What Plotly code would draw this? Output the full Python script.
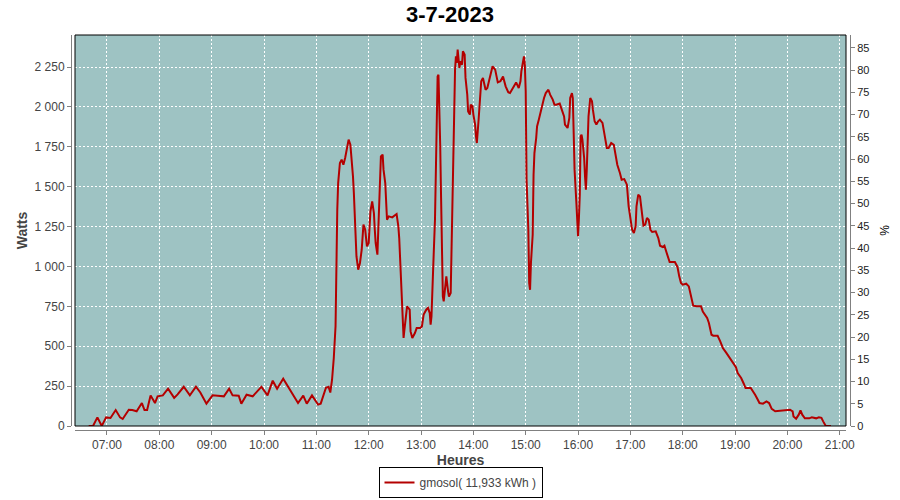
import plotly.graph_objects as go

DAY = "2023-07-03"
TITLE = "3-7-2023"
SERIES_NAME = "gmosol( 11,933 kWh )"

times = [
    "06:39", "06:44", "06:49", "06:54", "06:59", "07:04", "07:10", "07:15", "07:18", "07:25",
    "07:29", "07:34", "07:40", "07:43", "07:46", "07:50", "07:55", "07:58", "08:04", "08:10",
    "08:17", "08:21", "08:28", "08:35", "08:42", "08:47", "08:54", "09:01", "09:07", "09:14",
    "09:20", "09:24", "09:31", "09:34", "09:40", "09:47", "09:57", "10:04", "10:10", "10:15",
    "10:22", "10:29", "10:34", "10:39", "10:45", "10:49", "10:55", "11:02", "11:05", "11:11",
    "11:14", "11:16", "11:18", "11:20", "11:22", "11:23", "11:24", "11:25", "11:27", "11:29",
    "11:31", "11:33", "11:36", "11:37", "11:39", "11:41", "11:42", "11:43", "11:45", "11:46",
    "11:48", "11:50", "11:52", "11:54", "11:56", "11:58", "12:00", "12:02", "12:04", "12:06",
    "12:07", "12:08", "12:10", "12:11", "12:13", "12:14", "12:16", "12:17", "12:19", "12:20",
    "12:21", "12:23", "12:27", "12:32", "12:34", "12:35", "12:36", "12:37", "12:38", "12:39",
    "12:40", "12:41", "12:42", "12:44", "12:47", "12:48", "12:50", "12:53", "12:55", "12:59",
    "13:01", "13:03", "13:06", "13:08", "13:10", "13:11", "13:12", "13:13", "13:14", "13:16",
    "13:17", "13:18", "13:19", "13:20", "13:21", "13:22", "13:23", "13:24", "13:25", "13:26",
    "13:28", "13:29", "13:31", "13:32", "13:34", "13:35", "13:36", "13:37", "13:38", "13:39",
    "13:40", "13:41", "13:42", "13:44", "13:45", "13:47", "13:48", "13:50", "13:51", "13:53",
    "13:54", "13:56", "13:57", "13:59", "14:00", "14:02", "14:03", "14:04", "14:06", "14:07",
    "14:08", "14:09", "14:11", "14:14", "14:16", "14:18", "14:20", "14:22", "14:25", "14:27",
    "14:28", "14:31", "14:34", "14:37", "14:40", "14:42", "14:45", "14:49", "14:52", "14:54",
    "14:55", "14:57", "14:58", "14:59", "15:00", "15:01", "15:03", "15:04", "15:05", "15:06",
    "15:08", "15:09", "15:10", "15:12", "15:13", "15:15", "15:17", "15:19", "15:21", "15:23",
    "15:26", "15:28", "15:31", "15:33", "15:35", "15:39", "15:41", "15:44", "15:45", "15:48",
    "15:50", "15:51", "15:53", "15:54", "15:55", "15:56", "15:58", "15:59", "16:00", "16:01",
    "16:02", "16:03", "16:04", "16:05", "16:07", "16:08", "16:09", "16:10", "16:11", "16:12",
    "16:14", "16:16", "16:17", "16:19", "16:21", "16:23", "16:25", "16:28", "16:30", "16:33",
    "16:35", "16:38", "16:41", "16:43", "16:45", "16:48", "16:50", "16:53", "16:56", "16:58",
    "17:00", "17:02", "17:04", "17:06", "17:07", "17:09", "17:11", "17:13", "17:15", "17:17",
    "17:19", "17:21", "17:23", "17:25", "17:29", "17:32", "17:34", "17:37", "17:39", "17:41",
    "17:43", "17:45", "17:51", "17:54", "17:56", "17:58", "18:00", "18:04", "18:07", "18:10",
    "18:12", "18:16", "18:21", "18:23", "18:25", "18:28", "18:30", "18:33", "18:35", "18:40",
    "18:43", "18:46", "18:50", "18:54", "18:58", "19:01", "19:03", "19:07", "19:10", "19:12",
    "19:18", "19:20", "19:23", "19:25", "19:28", "19:32", "19:36", "19:39", "19:42", "19:46",
    "19:53", "20:03", "20:06", "20:07", "20:10", "20:13", "20:15", "20:17", "20:20", "20:25",
    "20:28", "20:33", "20:36", "20:39", "20:41", "20:44", "20:50",
]

watts = [
    0, 0, 54, 0, 54, 50, 100, 54, 44, 102,
    100, 92, 144, 100, 100, 192, 144, 186, 192, 234,
    176, 198, 246, 192, 246, 210, 140, 192, 190, 186,
    234, 192, 190, 140, 196, 186, 246, 192, 284, 234,
    296, 234, 186, 144, 190, 140, 192, 134, 140, 240,
    246, 210, 290, 426, 625, 1126, 1356, 1523, 1649, 1670,
    1638, 1680, 1774, 1795, 1763, 1649, 1565, 1461, 1251, 1063,
    980, 1022, 1105, 1262, 1230, 1126, 1147, 1345, 1408, 1335,
    1230, 1147, 1074, 1251, 1481, 1690, 1701, 1607, 1523, 1419,
    1293, 1314, 1308, 1329, 1251, 1178, 1042, 896, 750, 600,
    552, 604, 666, 750, 729, 593, 552, 583, 614, 614,
    624, 698, 729, 740, 708, 635, 687, 802, 1000, 1293,
    1627, 1983, 2191, 2202, 2025, 1753, 1429, 1126, 812, 781,
    896, 938, 844, 812, 834, 1157, 1450, 1753, 2035, 2234,
    2317, 2276, 2359, 2244, 2286, 2265, 2349, 2328, 2182, 2077,
    1972, 1952, 2014, 2004, 1952, 1889, 1816, 1774, 1920, 2004,
    2098, 2161, 2182, 2108, 2119, 2161, 2213, 2255, 2234, 2191,
    2154, 2161, 2191, 2129, 2092, 2087, 2119, 2154, 2119, 2161,
    2223, 2276, 2317, 2265, 2098, 1544, 1230, 896, 854, 1022,
    1199, 1575, 1711, 1805, 1878, 1920, 1972, 2008, 2056, 2087,
    2108, 2077, 2046, 2014, 2014, 2021, 1993, 1941, 1889, 1868,
    1931, 2056, 2087, 2056, 1837, 1607, 1408, 1273, 1189, 1304,
    1450, 1816, 1826, 1795, 1680, 1565, 1481, 1607, 1795, 1941,
    2056, 2035, 1983, 1910, 1889, 1910, 1920, 1900, 1837, 1743,
    1743, 1774, 1763, 1701, 1638, 1586, 1544, 1548, 1513, 1377,
    1314, 1230, 1210, 1251, 1377, 1450, 1439, 1345, 1256, 1262,
    1304, 1293, 1230, 1216, 1220, 1178, 1130, 1122, 1130, 1095,
    1053, 1028, 1028, 997, 938, 896, 886, 892, 875, 812,
    754, 750, 750, 718, 698, 677, 646, 572, 566, 566,
    530, 489, 458, 426, 395, 368, 332, 301, 265, 238,
    238, 223, 196, 175, 144, 140, 154, 144, 107, 92,
    98, 102, 92, 60, 46, 71, 98, 71, 48, 48,
    54, 48, 54, 51, 29, 0, 0,
]

watt_ticks = [0, 250, 500, 750, 1000, 1250, 1500, 1750, 2000, 2250]
watt_labels = ["0", "250", "500", "750", "1 000", "1 250", "1 500", "1 750", "2 000", "2 250"]
pct_ticks = list(range(0, 90, 5))
x_range = [DAY + " 06:23:20", DAY + " 21:07:10"]
w_range = [0, 2451]
pct_range = [0, 87.9]

xs = [DAY + " " + t for t in times]

BG = "#9ec3c3"
AXC = "#808080"
TXT = "#444444"
FONT = "Liberation Sans"

fig = go.Figure()
fig.add_trace(go.Scatter(
    x=xs, y=watts, mode="lines", name=SERIES_NAME,
    line=dict(color="#b40000", width=2), yaxis="y",
))
# invisible trace anchoring the right-hand percentage axis
fig.add_trace(go.Scatter(
    x=[xs[0]], y=[None], mode="lines", yaxis="y2", showlegend=False, hoverinfo="skip",
))

PW, PH = 779, 395
fig.update_layout(
    width=900, height=500,
    margin=dict(l=71, r=50, t=35, b=70, autoexpand=False),
    paper_bgcolor="white",
    plot_bgcolor=BG,
    title=dict(text="<b>" + TITLE + "</b>", x=0.5, xanchor="center", y=0.972, yanchor="middle",
               font=dict(family=FONT, size=22, color="black")),
    font=dict(family=FONT, size=12, color=TXT),
    xaxis=dict(
        type="date", range=x_range, domain=[4 / PW, 775 / PW],
        anchor="free", position=0, automargin=False,
        tickformat="%H:%M", dtick=3600000, tick0=DAY + " 07:00",
        showline=True, linecolor=AXC, linewidth=1,
        ticks="outside", ticklen=4, tickcolor=AXC,
        tickfont=dict(family=FONT, size=12, color=TXT),
        showgrid=True, gridcolor="white", gridwidth=1, griddash="2px,2px",
        zeroline=False,
        title=dict(text="<b>Heures</b>", font=dict(family=FONT, size=14, color=TXT), standoff=3),
    ),
    yaxis=dict(
        range=w_range, domain=[4 / PH, 1],
        anchor="free", position=0, automargin=False,
        tickvals=watt_ticks, ticktext=watt_labels,
        showline=True, linecolor=AXC, linewidth=1,
        ticks="outside", ticklen=4, tickcolor=AXC,
        tickfont=dict(family=FONT, size=12, color=TXT),
        showgrid=True, gridcolor="white", gridwidth=1, griddash="2px,2px",
        zeroline=False,
        title=dict(text="<b>Watts</b>", font=dict(family=FONT, size=14, color=TXT), standoff=2),
    ),
    yaxis2=dict(
        range=pct_range, domain=[4 / PH, 1],
        overlaying="y", side="right", anchor="free", position=1, automargin=False,
        tickvals=pct_ticks,
        showline=True, linecolor=AXC, linewidth=1,
        ticks="outside", ticklen=4, tickcolor=AXC,
        tickfont=dict(family=FONT, size=11, color="#222222"),
        showgrid=False, zeroline=False,
        title=dict(text="%", font=dict(family=FONT, size=12, color="black"), standoff=12),
    ),
    showlegend=True,
    legend=dict(
        orientation="h", x=0.5, xanchor="center", y=-0.172, yanchor="bottom",
        bgcolor="white", bordercolor="black", borderwidth=1,
        font=dict(family=FONT, size=12, color=TXT),
        itemwidth=30,
    ),
    shapes=[dict(
        type="rect", xref="x domain", yref="y domain", x0=0, x1=1, y0=0, y1=1,
        line=dict(color="black", width=1), layer="above", fillcolor="rgba(0,0,0,0)",
    )],
)

fig.write_html("out.html", config={"displayModeBar": False},
               post_script="document.body.style.margin='0';")
